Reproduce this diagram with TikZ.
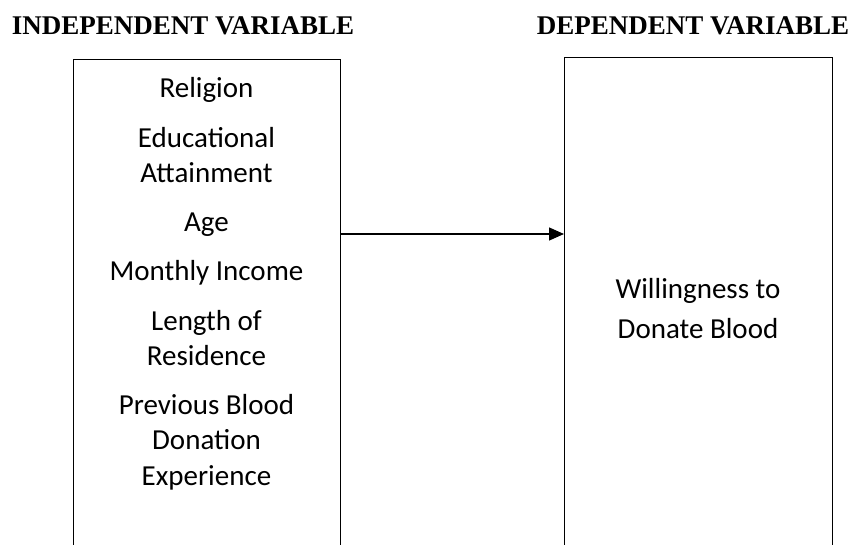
\documentclass[tikz,border=0pt]{standalone}
\usepackage{fontspec}
\setmainfont{Liberation Serif}
\newfontfamily\bodyfont{Carlito}
\usetikzlibrary{arrows.meta}
\begin{document}
\begin{tikzpicture}[x=1pt, y=-1pt,
  heading/.style={font=\bfseries\fontsize{27}{32}\selectfont, anchor=base},
  varbox/.style={draw, line width=1.3pt, anchor=north west, inner sep=0pt},
  item/.style={font=\bodyfont\fontsize{29}{35.4}\selectfont, align=center, anchor=base}
]
\useasboundingbox (0,0) rectangle (852,545);
\clip (0,0) rectangle (852,545);

\node[heading] (indeptitle) at (183,35) {INDEPENDENT VARIABLE};
\node[heading] (deptitle) at (693,35) {DEPENDENT VARIABLE};

\node[varbox, minimum width=267pt, minimum height=540pt] (indep) at (73,59) {};
\node[varbox, minimum width=268pt, minimum height=540pt] (dep) at (564,57) {};

% multi-line items sit on the baseline of their last line
\node[item] (religion) at (206.5,97.3) {Religion};
\node[item] (educ) at (206.5,182.7) {Educational\\Attainment};
\node[item] (age) at (206.5,231.7) {Age};
\node[item] (income) at (206.5,280.7) {Monthly Income};
\node[item] (residence) at (206.5,366) {Length of\\Residence};
\node[item] (donation) at (206.5,485) {Previous Blood\\Donation\\Experience};

\node[item, font=\bodyfont\fontsize{29}{40}\selectfont] (willing) at (698,338.3) {Willingness to\\Donate Blood};

\coordinate (arrowrow) at (0,234);
\draw[line width=1.3pt, -{Triangle[length=15pt, width=13pt]}] (indep.east |- arrowrow) -- (dep.west |- arrowrow);
\end{tikzpicture}
\end{document}
